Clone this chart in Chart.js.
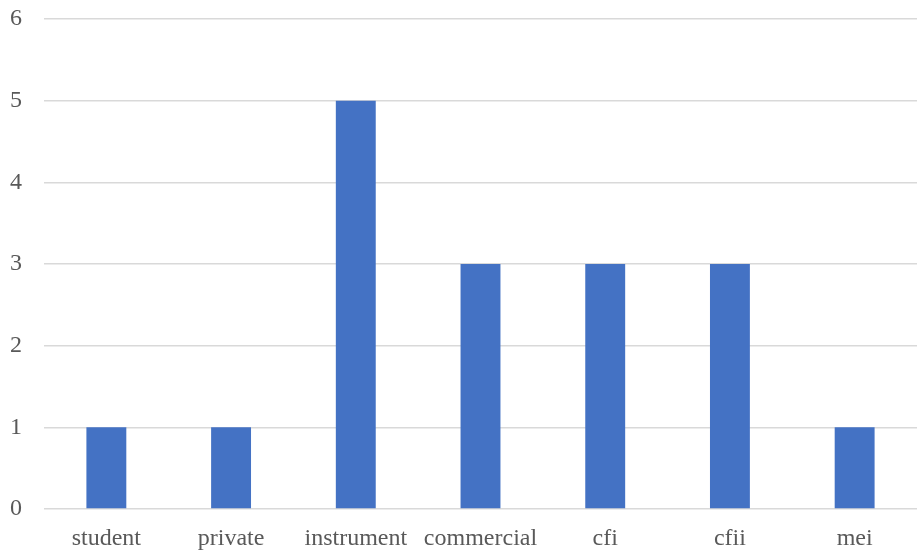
<!DOCTYPE html>
<html><head><meta charset="utf-8">
<script src="https://cdn.jsdelivr.net/npm/chart.js@4"></script>
<style>html,body{margin:0;padding:0;background:#fff}#w{width:917px;height:550px}</style>
</head><body><div id="w"><canvas id="c"></canvas></div>
<script>
const categories = ["student","private","instrument","commercial","cfi","cfii","mei"];
const values = [1,1,5,3,3,3,1];
const yTicks = [0,1,2,3,4,5,6];

new Chart(document.getElementById('c'), {
  type: 'bar',
  data: { labels: categories, datasets: [{ data: values, backgroundColor: '#4472C4', borderWidth: 0, barPercentage: 1, categoryPercentage: 0.32 }] },
  options: {
    responsive: true, maintainAspectRatio: false, animation: false,
    layout: { padding: { top: 19, right: 0, left: 0, bottom: 0 } },
    plugins: { legend: { display: false }, tooltip: { enabled: false } },
    scales: {
      x: {
        afterFit: s => { s.height = 41; s.paddingLeft = 0; s.paddingRight = 0; },
        grid: { display: false, drawTicks: false },
        border: { display: false },
        ticks: { color: '#595959', font: { family: 'Liberation Serif', size: 24 }, padding: 15, maxRotation: 0 }
      },
      y: {
        min: 0, max: 6,
        afterFit: s => { s.width = 44; s.paddingTop = 0; s.paddingBottom = 0; },
        afterBuildTicks: s => { s.ticks = yTicks.map(v => ({ value: v })); },
        grid: { color: '#d9d9d9', lineWidth: 1.5, drawTicks: false },
        border: { display: false },
        ticks: { color: '#595959', font: { family: 'Liberation Serif', size: 24 }, padding: 22 }
      }
    }
  }
});
</script></body></html>
